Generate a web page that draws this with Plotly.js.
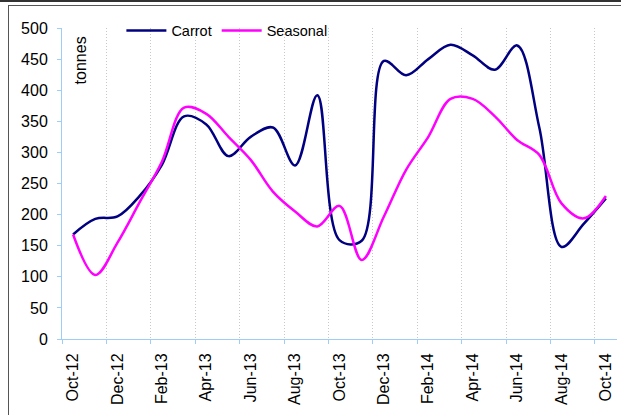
<!DOCTYPE html>
<html>
<head>
<meta charset="utf-8">
<script src="https://cdn.plot.ly/plotly-3.0.1.min.js"></script>
<style>
  body { margin: 0; background: #fff; }
  #chart { position: absolute; left: 0; top: 0; width: 621px; height: 415px; }
  .frame { position: absolute; background: #333; pointer-events: none; }
</style>
</head>
<body>
<div id="chart"></div>
<div class="frame" style="left:0;top:0;width:621px;height:2px;"></div>
<div class="frame" style="left:9px;top:5px;width:612px;height:1px;background:#555;"></div>
<div class="frame" style="left:8px;top:5px;width:1px;height:410px;background:#555;"></div>
<script>
var months = ['Oct-12','Nov-12','Dec-12','Jan-13','Feb-13','Mar-13','Apr-13','May-13','Jun-13','Jul-13','Aug-13','Sep-13',
  'Oct-13','Nov-13','Dec-13','Jan-14','Feb-14','Mar-14','Apr-14','May-14','Jun-14','Jul-14','Aug-14','Sep-14','Oct-14'];
var carrot = [168,193,197,230,280,358,345,294,325,340,279,392,
  159,158,447,424,450,473,456,433,472,340,148,185,226];
var seasonal = [168,103,155,220,285,372,362,325,288,237,205,181,
  214,127,197,272,325,386,386,358,320,296,218,194,230];
var yTicks = [0,50,100,150,200,250,300,350,400,450,500];

// ticks and grid sit between the categories, every second month
var gridPos = [];
for (var i = 0; i < months.length; i += 2) { gridPos.push(i - 0.5); }

var axisBlue = '#9fcdf5';
var fnt = 'Liberation Sans, Arial, sans-serif';

var trace1 = {
  x: months, y: carrot, name: 'Carrot', type: 'scatter', mode: 'lines',
  line: {color: '#000080', width: 2.5, shape: 'spline', smoothing: 1}
};
var trace2 = {
  x: months, y: seasonal, name: 'Seasonal', type: 'scatter', mode: 'lines',
  line: {color: '#ff00ff', width: 2.5, shape: 'spline', smoothing: 1}
};
var dummy = {x: [], y: [], xaxis: 'x2', showlegend: false, hoverinfo: 'skip'};

var layout = {
  width: 621, height: 415,
  margin: {l: 62, r: 3.5, t: 27.5, b: 75.5},
  paper_bgcolor: '#fff', plot_bgcolor: '#fff',
  font: {family: fnt, size: 16, color: '#000'},
  showlegend: true,
  legend: {orientation: 'h', x: 0.107, xanchor: 'left', y: 0.992, yanchor: 'middle',
    font: {size: 14.5}, bgcolor: 'rgba(0,0,0,0)', itemwidth: 40, tracegroupgap: 0},
  xaxis: {type: 'category', range: [-0.5, months.length - 0.5], tickmode: 'array',
    tickvals: months.filter(function(m, i) { return i % 2 == 0; }),
    tickangle: -90, ticks: '', showgrid: false, showline: true, linecolor: axisBlue,
    linewidth: 1, ticklabelstandoff: 7, zeroline: false},
  xaxis2: {overlaying: 'x', range: [-0.5, months.length - 0.5], tickmode: 'array',
    tickvals: gridPos, showticklabels: false, ticks: 'outside', ticklen: 4,
    tickcolor: axisBlue, showgrid: true, gridcolor: '#c8c8c8', griddash: '1px,2px',
    gridwidth: 1, showline: false, zeroline: false, side: 'bottom'},
  yaxis: {range: [0, 500], tickmode: 'array', tickvals: yTicks, ticks: 'outside',
    ticklen: 4, tickcolor: axisBlue, showline: true, linecolor: axisBlue, linewidth: 1,
    showgrid: false, zeroline: false, ticklabelstandoff: 6},
  annotations: [{text: 'tonnes', xref: 'paper', yref: 'paper',
    x: (80 - 62) / 555.5, y: 1 - (60 - 27.5) / 312, xanchor: 'center', yanchor: 'middle',
    textangle: -90, showarrow: false, font: {size: 16}}]
};

Plotly.newPlot('chart', [trace1, trace2, dummy], layout, {displayModeBar: false, staticPlot: true});
</script>
</body>
</html>
